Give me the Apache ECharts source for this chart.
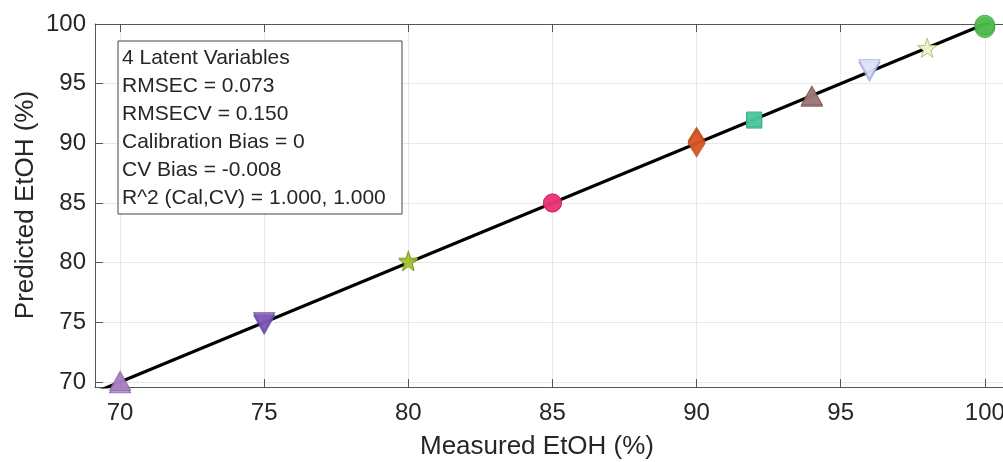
<!DOCTYPE html>
<html>
<head>
<meta charset="utf-8">
<script src="https://cdn.jsdelivr.net/npm/echarts@6/dist/echarts.min.js"></script>
<style>html,body{margin:0;padding:0;background:#fff}#c{width:1003px;height:462px}</style>
</head>
<body>
<div id="c"></div>
<script>
// ---- data ----
const measured = [70, 75, 80, 85, 90, 92, 94, 96, 98, 100];
const predictedCal = [70.1, 75.0, 80.1, 85.0, 90.0, 92.0, 94.0, 96.2, 98.0, 99.9];
const predictedCV = [69.9, 74.8, 80.2, 85.0, 90.2, 91.9, 93.9, 96.0, 98.0, 99.7];
const fitLineX = [69, 101];
const fitLineY = [69, 101];
const xTicks = [70, 75, 80, 85, 90, 95, 100];
const yTicks = [70, 75, 80, 85, 90, 95, 100];
const statsLines = [
  '4 Latent Variables',
  'RMSEC = 0.073',
  'RMSECV = 0.150',
  'Calibration Bias = 0',
  'CV Bias = -0.008',
  'R^2 (Cal,CV) = 1.000, 1.000'
];
const xTitle = 'Measured EtOH (%)';
const yTitle = 'Predicted EtOH (%)';

// ---- styles ----
const STAR = 'path://M50,0 L61,35 L98,35 L68,57 L79,91 L50,70 L21,91 L32,57 L2,35 L39,35 Z';
const shapes = ['triangle', 'triangle', STAR, 'circle', 'diamond', 'rect', 'triangle', 'triangle', STAR, 'circle'];
const rotations = [0, 180, 0, 0, 0, 0, 0, 180, 0, 0];
const sizes = [[21, 19], [21, 19], 19, 18, [17, 27], 15, [21, 19], [21, 19], 19, 20];
const fills = ['#a981c2', '#7f59b8', '#a9c63a', '#ec3275', '#d95525', '#4cc79b', '#9e7676', '#dfe2f8', '#f4f8d6', '#4dba4a'];
const edges = ['#8a5fa8', '#6447a0', '#7e9a20', '#cf2060', '#b04010', '#2fa878', '#785454', '#98a2dc', '#b0c070', '#38a035'];

const FONT = '"Liberation Sans", Arial, Helvetica, sans-serif';
const TXT = '#262626';

function pts(ys) {
  return measured.map((x, i) => ({
    value: [x, ys[i]],
    symbol: shapes[i],
    symbolRotate: rotations[i],
    symbolSize: sizes[i],
    itemStyle: { color: fills[i], borderColor: edges[i], borderWidth: 1 }
  }));
}

const chart = echarts.init(document.getElementById('c'), null, { renderer: 'canvas' });
const axisCommon = {
  type: 'value',
  axisLine: { show: true, lineStyle: { color: '#555', width: 1 } },
  axisTick: { show: true, inside: true, length: 8, lineStyle: { color: '#555' } },
  axisLabel: { color: TXT, fontFamily: FONT, fontSize: 24 },
  splitLine: { show: true, lineStyle: { color: '#e8e8e8', width: 1 } }
};
chart.setOption({
  animation: false,
  backgroundColor: '#fff',
  grid: { left: 95, top: 24, width: 910, height: 363, outerBoundsMode: 'none', containLabel: false },
  xAxis: [
    Object.assign({}, axisCommon, {
      min: 69.13, max: 100.7, position: 'bottom',
      axisTick: Object.assign({}, axisCommon.axisTick, { customValues: xTicks }),
      axisLabel: Object.assign({}, axisCommon.axisLabel, { customValues: xTicks, margin: 14 })
    }),
    Object.assign({}, axisCommon, {
      min: 69.13, max: 100.7, position: 'top',
      axisTick: Object.assign({}, axisCommon.axisTick, { customValues: xTicks }),
      axisLabel: { show: false },
      splitLine: { show: false }
    })
  ],
  yAxis: [
    Object.assign({}, axisCommon, {
      min: 69.58, max: 100, position: 'left',
      axisTick: Object.assign({}, axisCommon.axisTick, { customValues: yTicks }),
      axisLabel: Object.assign({}, axisCommon.axisLabel, { customValues: yTicks, margin: 9 })
    })
  ],
  series: [
    {
      type: 'line', xAxisIndex: 0, yAxisIndex: 0,
      data: fitLineX.map((x, i) => [x, fitLineY[i]]),
      showSymbol: false, clip: true,
      lineStyle: { color: '#000', width: 3.2 }, z: 2
    },
    { type: 'scatter', data: pts(predictedCV), z: 3, clip: false },
    { type: 'scatter', data: pts(predictedCal), z: 4, clip: false }
  ],
  graphic: [
    {
      type: 'rect', left: 117.5, top: 40.5, z: 10,
      shape: { width: 284, height: 173 },
      style: { fill: '#fff', stroke: '#444', lineWidth: 1 }
    },
    {
      type: 'text', left: 122, top: 44, z: 11,
      style: { text: statsLines.join('\n'), font: '21px ' + FONT, fill: TXT, lineHeight: 28 }
    },
    {
      type: 'text', x: 537, y: 447, z: 11,
      style: { text: xTitle, font: '26px ' + FONT, fill: TXT, align: 'center', verticalAlign: 'middle' }
    },
    {
      type: 'text', x: 26, y: 205, rotation: Math.PI / 2, z: 11,
      style: { text: yTitle, font: '26px ' + FONT, fill: TXT, align: 'center', verticalAlign: 'middle' }
    }
  ]
});
</script>
</body>
</html>
